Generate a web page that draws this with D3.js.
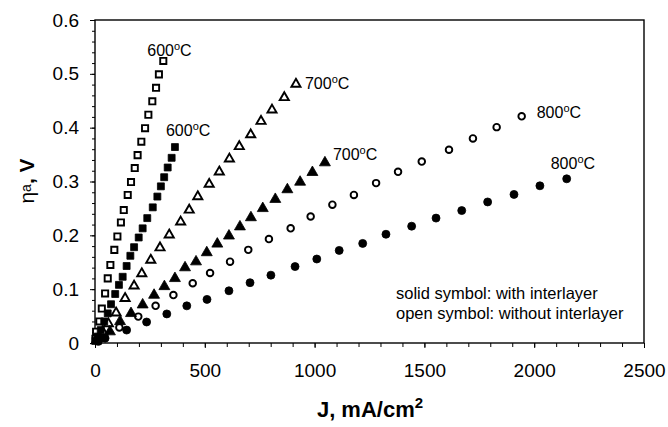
<!DOCTYPE html>
<html>
<head>
<meta charset="utf-8">
<script src="https://cdn.jsdelivr.net/npm/d3@7"></script>
<style>
  body { margin: 0; background: #fff; }
  text { font-family: "Liberation Sans", Arial, sans-serif; fill: #000; }
</style>
</head>
<body>
<svg id="chart" width="668" height="427"></svg>
<script>
// Anode overpotential vs. current density, with and without interlayer
const xTickValues = [0, 500, 1000, 1500, 2000, 2500];
const yTickValues = [0, 0.1, 0.2, 0.3, 0.4, 0.5, 0.6];

// [J (mA/cm2), eta_a (V)]
const sq600Open = [[2,0.008],[5,0.021],[20,0.040],[31,0.064],[46,0.092],[58,0.120],[70,0.145],[88,0.173],[102,0.198],[118,0.224],[131,0.247],[149,0.275],[164,0.299],[181,0.325],[194,0.349],[211,0.374],[228,0.399],[243,0.424],[261,0.449],[278,0.474],[291,0.499],[311,0.524]];
const sq600Solid = [[2,0.004],[12,0.012],[26,0.024],[42,0.040],[58,0.055],[73,0.072],[92,0.091],[109,0.108],[126,0.123],[144,0.143],[161,0.162],[178,0.178],[199,0.196],[217,0.213],[238,0.232],[263,0.252],[284,0.272],[300,0.291],[315,0.308],[331,0.326],[349,0.344],[364,0.364]];
const tri700Open = [[15,0.010],[35,0.021],[61,0.036],[96,0.056],[137,0.083],[178,0.106],[213,0.129],[254,0.154],[296,0.177],[338,0.201],[390,0.225],[429,0.247],[468,0.272],[520,0.295],[566,0.318],[612,0.342],[657,0.365],[709,0.387],[756,0.412],[806,0.433],[862,0.456],[915,0.481]];
const tri700Solid = [[5,0.004],[23,0.009],[68,0.021],[114,0.040],[164,0.055],[217,0.071],[269,0.089],[316,0.105],[364,0.120],[410,0.140],[460,0.151],[509,0.168],[557,0.184],[610,0.199],[660,0.216],[710,0.233],[764,0.250],[821,0.267],[876,0.285],[934,0.299],[990,0.317],[1047,0.335]];
const circ800Open = [[10,0.004],[40,0.012],[111,0.029],[197,0.049],[276,0.069],[357,0.089],[445,0.111],[524,0.130],[615,0.151],[698,0.173],[792,0.193],[891,0.213],[982,0.235],[1081,0.257],[1179,0.275],[1280,0.297],[1380,0.318],[1488,0.337],[1612,0.359],[1721,0.380],[1829,0.401],[1943,0.421]];
const circ800Solid = [[15,0.003],[46,0.009],[144,0.024],[235,0.039],[327,0.054],[418,0.069],[510,0.081],[610,0.097],[706,0.112],[801,0.126],[911,0.142],[1010,0.156],[1112,0.172],[1219,0.185],[1325,0.202],[1442,0.217],[1553,0.232],[1670,0.246],[1788,0.262],[1908,0.276],[2026,0.292],[2148,0.305]];

const tempLabels = ["600", "600", "700", "700", "800", "800"];
const legendLines = ["solid symbol: with interlayer", "open symbol: without interlayer"];

const svg = d3.select("#chart");
const plotLeft = 95, plotRight = 644, plotTop = 20, plotBottom = 343;

const x = d3.scaleLinear().domain([0, 2500]).range([plotLeft, plotRight]);
const y = d3.scaleLinear().domain([0, 0.6]).range([plotBottom, plotTop]);

// frame
svg.append("rect")
  .attr("x", plotLeft).attr("y", plotTop)
  .attr("width", plotRight - plotLeft).attr("height", plotBottom - plotTop)
  .attr("fill", "none").attr("stroke", "#000").attr("stroke-width", 1.4);

// minor ticks
const xAxisMinor = d3.axisBottom(x).tickValues(d3.range(0, 2501, 100)).tickSize(4).tickFormat("");
const yAxisMinor = d3.axisLeft(y).tickValues(d3.range(0, 31).map(i => i * 0.02)).tickSize(3).tickFormat("");
svg.append("g").attr("transform", `translate(0,${plotBottom})`).call(xAxisMinor)
  .call(g => g.select(".domain").remove());
svg.append("g").attr("transform", `translate(${plotLeft},0)`).call(yAxisMinor)
  .call(g => g.select(".domain").remove());

// major ticks with labels
const xAxis = d3.axisBottom(x).tickValues(xTickValues).tickSize(5).tickPadding(16).tickFormat(d3.format("d"));
const yAxis = d3.axisLeft(y).tickValues(yTickValues).tickSize(5).tickPadding(11).tickFormat(d => d === 0 ? "0" : d3.format(".1f")(d));
const gx = svg.append("g").attr("transform", `translate(0,${plotBottom})`).call(xAxis);
const gy = svg.append("g").attr("transform", `translate(${plotLeft},0)`).call(yAxis);
[gx, gy].forEach(g => {
  g.select(".domain").remove();
  g.selectAll("text").attr("font-size", 19).attr("font-family", "Liberation Sans, Arial, sans-serif");
});
svg.selectAll(".tick line").attr("stroke", "#000");

// axis titles
const xt = svg.append("text").attr("x", 370).attr("y", 417)
  .attr("text-anchor", "middle").attr("font-size", 22).attr("font-weight", "bold");
xt.append("tspan").text("J, mA/cm");
xt.append("tspan").attr("dy", -9).attr("font-size", 15).text("2");

const yt = svg.append("text")
  .attr("transform", `translate(34,181) rotate(-90)`)
  .attr("text-anchor", "middle").attr("font-size", 21);
yt.append("tspan").text("η");
yt.append("tspan").attr("dy", -3).attr("font-size", 14).text("a");
yt.append("tspan").attr("dy", 3).attr("font-weight", "bold").text(", V");

// markers
const sym = (type, size) => d3.symbol().type(type).size(size)();
function drawSeries(data, type, size, filled) {
  svg.append("g").selectAll("path").data(data).join("path")
    .attr("transform", d => `translate(${x(d[0])},${y(d[1])})`)
    .attr("d", sym(type, size))
    .attr("fill", filled ? "#000" : "#fff")
    .attr("stroke", "#000")
    .attr("stroke-width", filled ? 0.8 : 1.9);
}
drawSeries(circ800Open, d3.symbolCircle, 34, false);
drawSeries(tri700Open, d3.symbolTriangle, 36, false);
drawSeries(sq600Open, d3.symbolSquare, 38, false);
drawSeries(circ800Solid, d3.symbolCircle, 50, true);
drawSeries(tri700Solid, d3.symbolTriangle, 52, true);
drawSeries(sq600Solid, d3.symbolSquare, 48, true);

// temperature labels near each series end
const labelAnchors = [
  { s: sq600Open, dx: -16, dy: -5 },
  { s: sq600Solid, dx: -9, dy: -11 },
  { s: tri700Open, dx: 9, dy: 5 },
  { s: tri700Solid, dx: 8, dy: -3 },
  { s: circ800Open, dx: 15, dy: 2 },
  { s: circ800Solid, dx: -16, dy: -10 }
];
labelAnchors.forEach((a, i) => {
  const last = a.s[a.s.length - 1];
  const t = svg.append("text")
    .attr("x", x(last[0]) + a.dx).attr("y", y(last[1]) + a.dy)
    .attr("font-size", 16);
  t.append("tspan").text(tempLabels[i]);
  t.append("tspan").attr("dy", -6).attr("font-size", 11).text("o");
  t.append("tspan").attr("dy", 6).text("C");
});

// legend text
svg.append("g").selectAll("text").data(legendLines).join("text")
  .attr("x", 396).attr("y", (d, i) => 299 + i * 20)
  .attr("font-size", 16.5)
  .text(d => d);
</script>
</body>
</html>
